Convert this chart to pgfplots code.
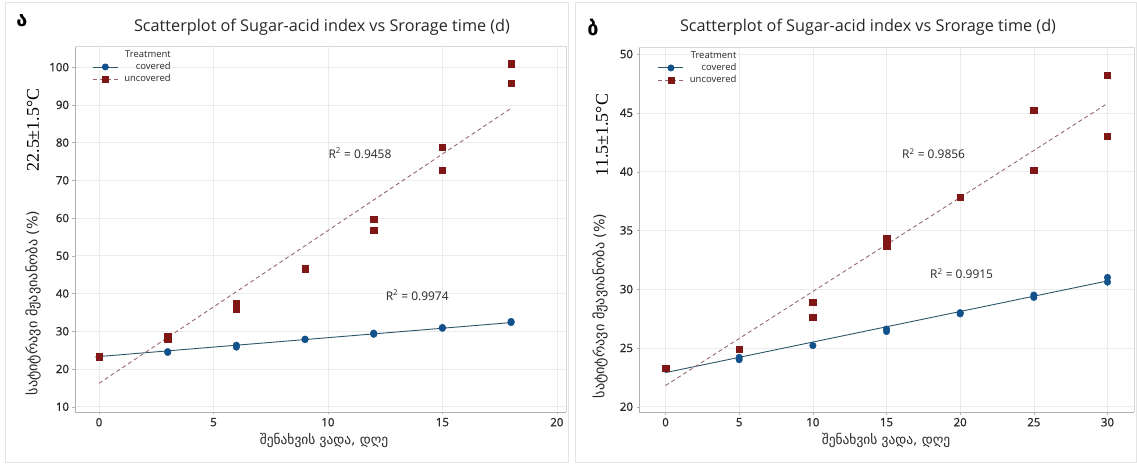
\documentclass[border=0pt]{standalone}
\usepackage{fontspec}
\setmainfont{Open Sans}
\newfontfamily\geo{DejaVu Sans}
\newfontfamily\tnr{Liberation Serif}
\newfontfamily\tickf[FakeBold=1]{Open Sans}
\usepackage{pgfplots}
\pgfplotsset{compat=1.18}
\definecolor{mblue}{RGB}{18,82,140}
\definecolor{mred}{RGB}{128,22,22}
\definecolor{lblue}{RGB}{45,85,105}
\definecolor{lred}{RGB}{150,105,105}
\definecolor{txt}{RGB}{40,40,40}
\pgfplotsset{
 panel/.style={
  scale only axis, anchor=south west,
  axis lines=left, axis line style={-, draw=gray!60, line width=0.8pt},
  grid=major, grid style={draw=gray!15, line width=0.6pt},
  tick align=outside, major tick length=2.5bp, tick style={gray!60},
  ticklabel style={font=\tickf\fontsize{11.5}{12}\selectfont, text=txt},
  /pgf/number format/assume math mode=true,
  legend cell align=right,
  legend style={draw=none, fill=none, font=\fontsize{9.5}{10}\selectfont, text=txt,
    row sep=1.5bp, inner sep=0pt, anchor=north west,
    nodes={inner sep=1bp},
    /tikz/every odd column/.append style={column sep=5bp}},
  legend image code/.code={\draw[mark repeat=2,mark phase=2,##1] plot coordinates {(0bp,0bp) (12.5bp,0bp) (25bp,0bp)};},
  extra description/.code={\draw[gray!30, line width=0.6pt] (rel axis cs:0,1) -- (rel axis cs:1,1) -- (rel axis cs:1,0);},
 },
 covl/.style={lblue, line width=0.9pt, mark=*, mark options={fill=mblue, draw=mblue, mark size=3bp}},
 uncl/.style={lred, line width=0.9pt, dash pattern=on 4bp off 3bp, mark=square*, mark options={solid, fill=mred, draw=mred, mark size=3bp}},
 covm/.style={only marks, mark=*, mark options={fill=mblue, draw=mblue}, mark size=3.3bp},
 uncm/.style={only marks, mark=square*, mark options={fill=mred, draw=mred}, mark size=3.2bp},
}
\begin{document}
\begin{tikzpicture}
\path[use as bounding box] (0,0) rectangle (1137bp,464bp);
\fill[white] (0,0) rectangle (1137bp,464bp);
\draw[gray!20] (5bp,2bp) rectangle (568bp,462bp);
\draw[gray!20] (575bp,2bp) rectangle (1136bp,462bp);

% ---------- left panel ----------
\begin{axis}[panel, at={(75bp,52bp)}, width=491bp, height=366bp,
  xmin=-1.05, xmax=20.4, ymin=8.6, ymax=105.6,
  xtick={0,5,...,20}, ytick={10,20,...,100},
  legend style={at={(0.035,0.99)}}]
\addlegendimage{empty legend}\addlegendentry{Treatment}
\addlegendimage{covl}\addlegendentry{covered}
\addlegendimage{uncl}\addlegendentry{uncovered}
\addplot[lblue, line width=0.9pt, forget plot] coordinates {(0,23.3) (18,32.3)};
\addplot[lred, line width=0.9pt, dash pattern=on 4bp off 3bp, forget plot] coordinates {(0,16.2) (18,89.1)};
\addplot[covm, forget plot] coordinates {(0,23.2) (3,24.6) (3,24.4) (6,25.8) (6,26.3) (9,27.9) (9,27.8) (12,29.2) (12,29.5) (15,30.8) (15,31.0) (18,32.3) (18,32.6)};
\addplot[uncm, forget plot] coordinates {(0,23.3) (0,23.2) (3,28.0) (3,28.6) (6,35.8) (6,37.4) (9,46.4) (9,46.6) (12,56.8) (12,59.7) (15,72.7) (15,78.8) (18,95.8) (18,100.9)};
\node[font=\fontsize{12}{14}\selectfont, text=txt] at (axis cs:11.4,77.2) {R\textsuperscript{2} = 0.9458};
\node[font=\fontsize{12}{14}\selectfont, text=txt] at (axis cs:13.9,39.6) {R\textsuperscript{2} = 0.9974};
\end{axis}

% ---------- right panel ----------
\begin{axis}[panel, at={(639bp,52bp)}, width=495bp, height=365bp,
  xmin=-1.8, xmax=31.8, ymin=19.55, ymax=50.6,
  xtick={0,5,...,30}, ytick={20,25,...,50},
  legend style={at={(0.038,0.99)}}]
\addlegendimage{empty legend}\addlegendentry{Treatment}
\addlegendimage{covl}\addlegendentry{covered}
\addlegendimage{uncl}\addlegendentry{uncovered}
\addplot[lblue, line width=0.9pt, forget plot] coordinates {(0,22.9) (30,30.7)};
\addplot[lred, line width=0.9pt, dash pattern=on 4bp off 3bp, forget plot] coordinates {(0,21.8) (30,45.8)};
\addplot[covm, forget plot] coordinates {(0,23.2) (5,24.0) (5,24.2) (10,25.2) (15,26.4) (15,26.6) (20,27.9) (20,28.0) (25,29.3) (25,29.5) (30,30.6) (30,31.0)};
\addplot[uncm, forget plot] coordinates {(0,23.3) (5,24.9) (10,27.6) (10,28.9) (15,33.7) (15,34.3) (20,37.8) (25,40.1) (25,45.2) (30,43.0) (30,48.2)};
\node[font=\fontsize{12}{14}\selectfont, text=txt] at (axis cs:18.2,41.5) {R\textsuperscript{2} = 0.9856};
\node[font=\fontsize{12}{14}\selectfont, text=txt] at (axis cs:20.1,31.3) {R\textsuperscript{2} = 0.9915};
\end{axis}

% titles and labels
\node[font=\fontsize{16.3}{18}\selectfont, text=txt] at (322bp,437bp) {Scatterplot of Sugar-acid index vs Srorage time (d)};
\node[font=\fontsize{16.3}{18}\selectfont, text=txt] at (868bp,437bp) {Scatterplot of Sugar-acid index vs Srorage time (d)};
\node[font=\geo\bfseries\fontsize{20}{22}\selectfont] at (22bp,443bp) {ა};
\node[font=\geo\bfseries\fontsize{20}{22}\selectfont] at (593bp,437bp) {ბ};
\node[font=\tnr\fontsize{18}{20}\selectfont, rotate=90] at (33bp,334bp) {22.5±1.5°C};
\node[font=\tnr\fontsize{18}{20}\selectfont, rotate=90] at (602bp,329bp) {11.5±1.5°C};
\node[font=\geo\fontsize{14.3}{16}\selectfont, text=txt, rotate=90] at (33bp,161bp) {სატიტრავი მჟავიანობა (\%)};
\node[font=\geo\fontsize{14.3}{16}\selectfont, text=txt, rotate=90] at (600bp,158bp) {სატიტრავი მჟავიანობა (\%)};
\node[font=\geo\fontsize{13.5}{15}\selectfont, text=txt] at (324bp,24bp) {შენახვის ვადა, დღე};
\node[font=\geo\fontsize{13.5}{15}\selectfont, text=txt] at (886bp,24bp) {შენახვის ვადა, დღე};
\end{tikzpicture}
\end{document}
